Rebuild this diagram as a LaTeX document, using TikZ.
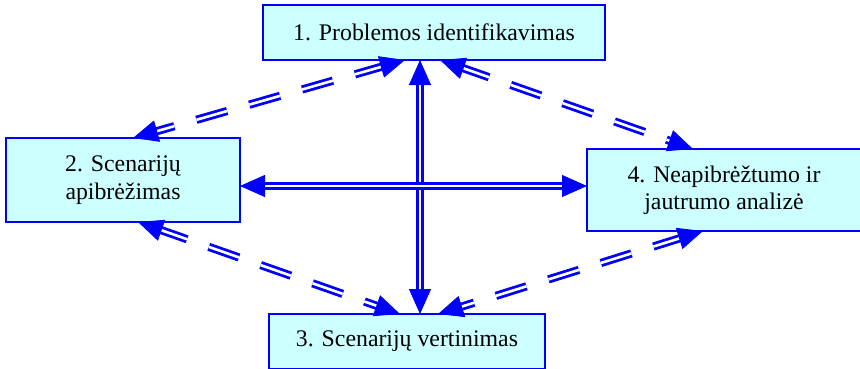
\documentclass[tikz,border=0pt]{standalone}
\usepackage{fontspec}
\setmainfont{Liberation Serif}
\usetikzlibrary{arrows.meta,decorations.markings}
\definecolor{boxfill}{HTML}{CCFFFF}
\definecolor{linkblue}{HTML}{0000FF}

\begin{document}
\begin{tikzpicture}[x=1pt,y=-1pt,
  stage/.style={draw=linkblue, line width=2pt, fill=boxfill, inner sep=0pt,
    outer sep=0pt, align=center, text=black,
    font=\fontsize{23.8}{27.5}\selectfont},
  link/.style={draw=linkblue, double=white, line width=2.8pt,
    double distance=2.6pt, shorten <=20pt, shorten >=20pt},
  dlink/.style={link, dash pattern=on 32pt off 23pt},
  % arrow heads at both ends of an undrawn path
  heads/.style={decoration={markings,
      mark=at position 0 with {\arrowreversed[linkblue, line width=1pt]{Triangle[length=25pt,width=22pt]}},
      mark=at position 1 with {\arrow[linkblue, line width=1pt]{Triangle[length=25pt,width=22pt]}}},
    decorate}
]
\useasboundingbox (0,0) rectangle (860,368);
\clip (0,0) rectangle (860,368);

% stages
\node[stage, minimum width=342pt, minimum height=55pt] (p1) at (434,32.5)
  {1. Problemos identifikavimas};
\node[stage, minimum width=234pt, minimum height=84pt] (p2) at (123,180)
  {2. Scenarijų\\apibrėžimas};
\node[stage, minimum width=274pt, minimum height=82pt] (p4) at (724,190)
  {4. Neapibrėžtumo ir\\jautrumo analizė};
\node[stage, minimum width=276pt, minimum height=55pt] (p3) at (407,341.5)
  {3. Scenarijų vertinimas};

% ports on the box edges
\coordinate (vx) at (420,0);
\coordinate (hy) at (0,186);
\coordinate (a1) at (405,0);
\coordinate (a2) at (133,0);
\coordinate (b1) at (440,0);
\coordinate (b2) at (693,0);
\coordinate (c1) at (138,0);
\coordinate (c2) at (400,0);
\coordinate (d1) at (703,0);
\coordinate (d2) at (438,0);

% solid double links
\draw[link]  (p1.south -| vx) -- (p3.north -| vx);
\path[heads] (p1.south -| vx) -- (p3.north -| vx);
\draw[link]  (p2.east |- hy) -- (p4.west |- hy);
\path[heads] (p2.east |- hy) -- (p4.west |- hy);

% dashed double links
\draw[dlink] (p1.south -| a1) -- (p2.north -| a2);
\path[heads] (p1.south -| a1) -- (p2.north -| a2);
\draw[dlink] (p1.south -| b1) -- (p4.north -| b2);
\path[heads] (p1.south -| b1) -- (p4.north -| b2);
\draw[dlink] (p2.south -| c1) -- (p3.north -| c2);
\path[heads] (p2.south -| c1) -- (p3.north -| c2);
\draw[dlink] (p4.south -| d1) -- (p3.north -| d2);
\path[heads] (p4.south -| d1) -- (p3.north -| d2);
\end{tikzpicture}
\end{document}
